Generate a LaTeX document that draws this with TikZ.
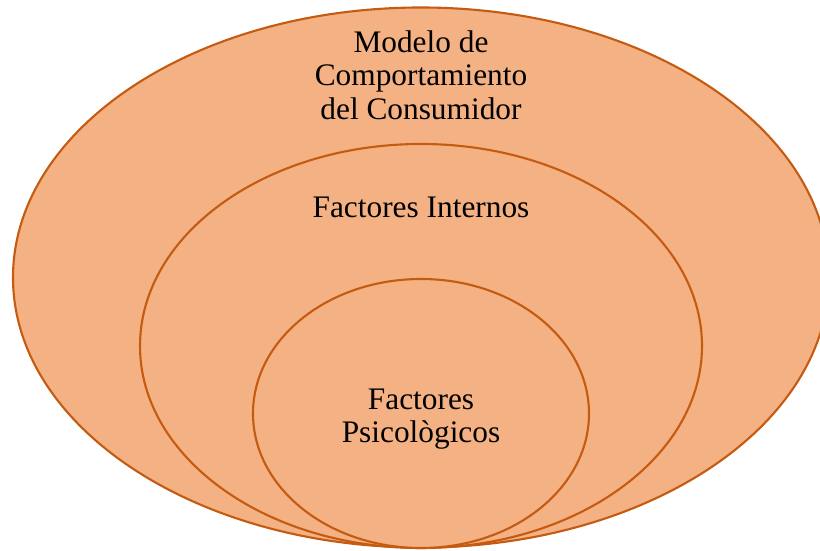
\documentclass[tikz,border=0pt]{standalone}
\usepackage{fontspec}
\setmainfont{Liberation Serif}
\definecolor{ringfill}{HTML}{F4B183}
\definecolor{ringline}{HTML}{C55A11}

\begin{document}
\begin{tikzpicture}[thick]
\useasboundingbox (0,0) rectangle (20.5,13.775);

\begin{scope}[draw=ringline,fill=ringfill,line width=1.5pt]
  \filldraw (10.525,6.8375) circle [x radius=10.2cm, y radius=6.75cm];
  \filldraw (10.525,5.125) circle [x radius=7.025cm, y radius=5.05cm];
  \filldraw (10.525,3.4375) circle [x radius=4.2cm, y radius=3.3625cm];
\end{scope}

\begin{scope}[font=\fontsize{22.3}{23.8}\selectfont]
  \node[align=center] (modelo) at (10.525,11.9)    {Modelo de\\Comportamiento\\del Consumidor};
  \node[align=center] (internos) at (10.525,8.6)   {Factores Internos};
  \node[align=center] (psico) at (10.525,3.3)      {Factores\\Psicològicos};
\end{scope}

\end{tikzpicture}
\end{document}
